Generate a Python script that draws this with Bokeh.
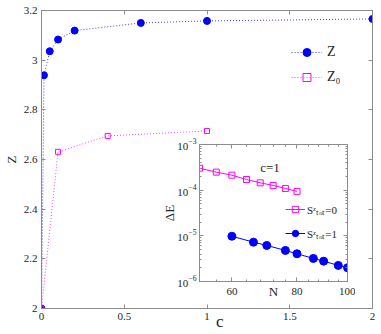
from bokeh.plotting import figure
from bokeh.models import (FixedTicker, LinearAxis, LogAxis, Legend, LegendItem, Label,
                          BasicTickFormatter, LogTickFormatter, CustomJSTickFormatter)
from bokeh.layouts import column
from bokeh.embed import file_html
from bokeh.resources import INLINE

# ---------------- data ----------------
c_vals = [0.0, 0.015, 0.05, 0.1, 0.2, 0.6, 1.0, 2.0]
z_vals = [2.0, 2.939, 3.036, 3.083, 3.119, 3.150, 3.158, 3.166]
c0_vals = [0.0, 0.1, 0.4, 1.0]
z0_vals = [2.0, 2.631, 2.695, 2.715]

N_s0 = [52, 56, 60, 64, 68, 72, 76, 80]
dE_s0 = [3.03e-4, 2.48e-4, 2.13e-4, 1.71e-4, 1.45e-4, 1.27e-4, 1.09e-4, 9.4e-5]
N_s1 = [60, 66, 70, 76, 80, 86, 90, 96, 100]
dE_s1 = [9.8e-6, 7.27e-6, 6.16e-6, 4.79e-6, 4.05e-6, 3.2e-6, 2.79e-6, 2.25e-6, 2.0e-6]

x_ticks = [0, 0.5, 1, 1.5, 2]
x_tick_labels = ["0", "0.5", "1", "1.5", "2"]
y_ticks = [2, 2.2, 2.4, 2.6, 2.8, 3, 3.2]
y_tick_labels = ["2", "2.2", "2.4", "2.6", "2.8", "3", "3.2"]

inset_x_ticks = [60, 80, 100]
inset_x_labels = ["60", "80", "100"]
inset_x_minor = [52, 56, 64, 68, 72, 76, 84, 88, 92, 96]
inset_y_ticks = [1e-6, 1e-5, 1e-4, 1e-3]
inset_y_minor = [m * d for d in [1e-6, 1e-5, 1e-4] for m in range(2, 10)]

# ---------------- style ----------------
SERIF = "Liberation Serif"
BLUE = "#0000ff"
MAG = "#ff00ff"
AX = "#8c8c8c"
TXT = "#262626"


def style_axis(ax, labels=True, size="11px", standoff=4):
    ax.axis_line_color = AX
    ax.major_tick_line_color = AX
    ax.minor_tick_line_color = AX
    ax.major_tick_in = 4
    ax.major_tick_out = 0
    ax.minor_tick_in = 2
    ax.minor_tick_out = 0
    ax.major_label_text_font = SERIF
    ax.major_label_text_font_size = size
    ax.major_label_text_color = TXT
    ax.major_label_standoff = standoff
    ax.axis_label_text_font = SERIF
    ax.axis_label_text_font_style = "normal"
    ax.axis_label_text_color = TXT
    if not labels:
        ax.formatter = CustomJSTickFormatter(code="return ''")
        ax.major_label_standoff = 0


# ---------------- main figure ----------------
p = figure(width=380, height=333, x_range=(0, 2), y_range=(2, 3.2),
           output_backend="svg", toolbar_location=None,
           min_border_left=40, min_border_right=8, min_border_top=10, min_border_bottom=25)
p.background_fill_color = "white"
p.outline_line_color = AX
p.grid.visible = False

xt = FixedTicker(ticks=x_ticks)
yt = FixedTicker(ticks=y_ticks)
p.xaxis.ticker = xt
p.yaxis.ticker = yt
p.xaxis.major_label_overrides = dict(zip(x_ticks, x_tick_labels))
p.yaxis.major_label_overrides = dict(zip(y_ticks, y_tick_labels))
style_axis(p.xaxis[0], standoff=4)
style_axis(p.yaxis[0], standoff=4)
p.yaxis.axis_label = "Z"
p.yaxis.axis_label_text_font_size = "13px"
p.yaxis.axis_label_standoff = 2
# x title "c" sits just right of the "1" tick label, on the tick-label row (em/en spaces shift it)
p.xaxis.axis_label = "\u2003\u2002c"
p.xaxis.axis_label_text_font_size = "17px"
p.xaxis.axis_label_standoff = -11

top_ax = LinearAxis(ticker=xt)
style_axis(top_ax, labels=False)
p.add_layout(top_ax, "above")
right_ax = LinearAxis(ticker=yt)
style_axis(right_ax, labels=False)
p.add_layout(right_ax, "right")

rz_l = p.line(c_vals, z_vals, line_color=BLUE, line_dash="1 2", line_width=1, line_alpha=0.75)
rz_p = p.scatter(c_vals, z_vals, marker="circle", size=7, fill_color=BLUE, line_color=BLUE)
rz0_l = p.line(c0_vals, z0_vals, line_color=MAG, line_dash="1 2", line_width=1, line_alpha=0.75)
rz0_p = p.scatter(c0_vals, z0_vals, marker="square", size=5, fill_color=None, line_color=MAG)

leg = Legend(items=[LegendItem(label="Z", renderers=[rz_l, rz_p]),
                    LegendItem(label="Z\u2080", renderers=[rz0_l, rz0_p])],
             location=(250, 221), border_line_color=None, background_fill_alpha=0,
             glyph_width=31, glyph_height=20, spacing=5, padding=0, margin=0,
             label_standoff=5, label_text_font=SERIF, label_text_font_size="14px",
             label_text_color=TXT)
p.add_layout(leg)

# ---------------- inset figure ----------------
q = figure(width=197, height=165, x_range=(52, 100), y_range=(1e-6, 1e-3),
           x_axis_type="log", y_axis_type="log",
           output_backend="svg", toolbar_location=None,
           min_border_left=41, min_border_right=5, min_border_top=8, min_border_bottom=20)
q.background_fill_color = "white"
q.border_fill_alpha = 0
q.outline_line_color = AX
q.grid.visible = False

ixt = FixedTicker(ticks=inset_x_ticks, minor_ticks=inset_x_minor)
iyt = FixedTicker(ticks=inset_y_ticks, minor_ticks=inset_y_minor)
q.xaxis.ticker = ixt
q.xaxis.formatter = BasicTickFormatter()
q.xaxis.major_label_overrides = dict(zip(inset_x_ticks, inset_x_labels))
q.yaxis.ticker = iyt
q.yaxis.formatter = LogTickFormatter()
style_axis(q.xaxis[0], size="11px", standoff=6)
style_axis(q.yaxis[0], size="11px", standoff=3)
q.xaxis.axis_label = "N"
q.xaxis.axis_label_text_font_size = "13px"
q.xaxis.axis_label_standoff = -14
q.yaxis.axis_label = "\u0394E"
q.yaxis.axis_label_text_font_size = "13px"
q.yaxis.axis_label_standoff = -3

itop = LogAxis(ticker=ixt)
style_axis(itop, labels=False)
q.add_layout(itop, "above")
iright = LogAxis(ticker=iyt)
style_axis(iright, labels=False)
q.add_layout(iright, "right")

r0_l = q.line(N_s0, dE_s0, line_color=MAG, line_width=1)
r0_p = q.scatter(N_s0, dE_s0, marker="square", size=6, fill_color=None, line_color=MAG)
r1_l = q.line(N_s1, dE_s1, line_color=BLUE, line_width=1)
r1_p = q.scatter(N_s1, dE_s1, marker="circle", size=8, fill_color=BLUE, line_color=BLUE)

ileg = Legend(items=[LegendItem(label="S\u1dbb\u209c\u2092\u209c=0", renderers=[r0_l, r0_p]),
                     LegendItem(label="S\u1dbb\u209c\u2092\u209c=1", renderers=[r1_l, r1_p])],
              location=(86, 40), border_line_color=None, background_fill_alpha=0,
              glyph_width=20, glyph_height=16, spacing=8, padding=0, margin=0,
              label_standoff=2, label_text_font=SERIF, label_text_font_size="11px",
              label_text_color=TXT)
q.add_layout(ileg)

q.add_layout(Label(x=68, y=3.14e-4, text="c=1", text_baseline="middle",
                   text_font=SERIF, text_font_size="13px", text_color=TXT))

# inset placed over the main plot (page coordinates)
q.styles = {"position": "absolute", "left": "158px", "top": "136px", "z-index": "2"}

layout = column(p, q)

open("out.html", "w").write(file_html(layout, INLINE))
